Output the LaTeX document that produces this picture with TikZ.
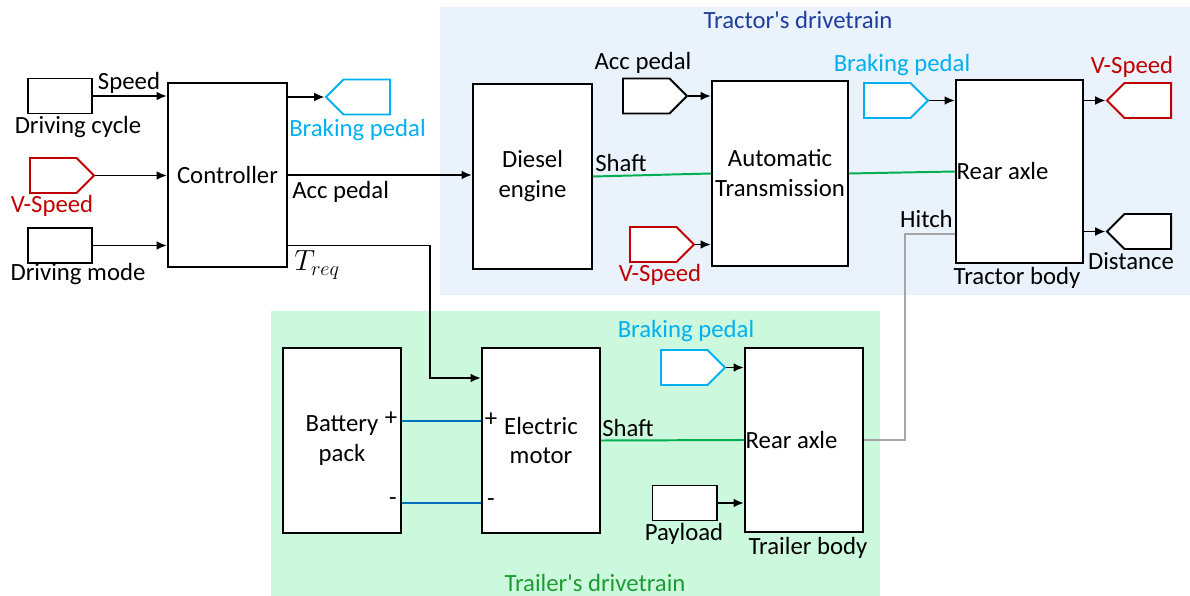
\documentclass[tikz,border=0pt]{standalone}
\usepackage{fontspec}
\setmainfont{Carlito}
\usetikzlibrary{arrows.meta,positioning,calc,shapes.symbols}
\definecolor{tagblue}{HTML}{00B0F0}
\definecolor{tagred}{HTML}{C00000}
\definecolor{tractorbg}{HTML}{EAF2FB}
\definecolor{trailerbg}{HTML}{CCF8DD}
\definecolor{tractortxt}{HTML}{1F3F9F}
\definecolor{trailertxt}{HTML}{1E9B32}
\definecolor{shaftgreen}{HTML}{00B050}
\definecolor{wireblue}{HTML}{0070C0}
\tikzset{
  block/.style={draw=black, fill=white, line width=1.4pt, inner sep=2pt, align=center},
  source/.style={draw=black, fill=white, line width=1.4pt, minimum width=1.6cm, minimum height=0.875cm},
  tagin/.style={signal, signal to=east, signal from=nowhere, signal pointer angle=90, draw=black, fill=white, line width=1.4pt, minimum width=1.6cm, minimum height=0.875cm, anchor=west},
  tagout/.style={signal, signal to=west, signal from=nowhere, signal pointer angle=90, draw=black, fill=white, line width=1.4pt, minimum width=1.6cm, minimum height=0.875cm, anchor=east},
  arrow/.style={-{Latex[length=2.6mm, width=2.2mm]}, line width=1.4pt},
  shaft/.style={shaftgreen, line width=1.4pt},
  wire/.style={wireblue, line width=1.4pt},
  hitch/.style={gray!70, line width=1.4pt},
  lbl/.style={inner sep=0pt},
  inlbl/.style={label={[anchor=west, inner sep=1pt]west:#1}}
}

\begin{document}
\begin{tikzpicture}[x=0.025cm, y=-0.025cm, font=\fontsize{17.6}{21.3}\selectfont]
  \useasboundingbox (0,0) rectangle (1190,596);
  \fill[tractorbg] (440,7) rectangle (1190,295);
  \fill[trailerbg] (271,311) rectangle (880,596);
  \node[lbl, tractortxt] (tractortitle) at (798,20) {Tractor\textquotesingle s drivetrain};
  \node[lbl, trailertxt] (trailertitle) at (595,583) {Trailer\textquotesingle s drivetrain};

  % controller side
  \node[source] (drvcycle) at (60,96) {};
  \node[tagin, draw=tagred] (vspeedin) at (29,175.5) {};
  \node[source] (drvmode) at (60,245.5) {};
  \node[block, minimum width=2.975cm, minimum height=4.6cm] (ctrl) at (227.5,175) {Controller};
  \node[tagout, draw=tagblue] (brakeout) at (391,97) {};
  \node[lbl] (speedlbl) at (129,83) {Speed};
  \node[lbl] (cyclelbl) at (78,127) {Driving cycle};
  \node[lbl, tagred] (vspeedinlbl) at (52,206) {V-Speed};
  \node[lbl] (modelbl) at (78,274) {Driving mode};
  \node[lbl, tagblue, anchor=west] (brakeoutlbl) at (289,130) {Braking pedal};
  \node[lbl, anchor=west] (acclbl) at (292,192) {Acc pedal};
  \node[lbl, anchor=west, font=\fontsize{19.5}{22}\selectfont] (treqlbl) at (294,265) {$T_{req}$};

  % tractor
  \node[block, minimum width=2.975cm, minimum height=4.625cm] (diesel) at (532.5,176.5) {Diesel\\engine};
  \node[tagin] (accin) at (622,96) {};
  \node[tagin, draw=tagred] (vspeedtr) at (629,244.5) {};
  \node[block, minimum width=3.4cm, minimum height=4.625cm] (trans) at (780,173.5) {Automatic\\Transmission};
  \node[tagin, draw=tagblue] (brakein) at (863,100.5) {};
  \node[block, minimum width=3.175cm, minimum height=4.575cm, inlbl=Rear axle] (raxle) at (1019.5,171.5) {};
  \node[tagout, draw=tagred] (vspeedout) at (1172,100.5) {};
  \node[tagout] (distout) at (1172,231.5) {};
  \node[lbl] (acctrlbl) at (643,63) {Acc pedal};
  \node[lbl, anchor=west] (shaftlbl) at (595,163) {Shaft};
  \node[lbl, tagred] (vspeedtrlbl) at (660,275) {V-Speed};
  \node[lbl, tagblue] (brakeinlbl) at (902,65) {Braking pedal};
  \node[lbl, tagred] (vspeedoutlbl) at (1132,67) {V-Speed};
  \node[lbl, anchor=east] (hitchlbl) at (953,219) {Hitch};
  \node[lbl] (tractorlbl) at (1017,278) {Tractor body};
  \node[lbl] (distlbl) at (1131,261) {Distance};

  % trailer
  \node[block, minimum width=2.95cm, minimum height=4.625cm] (battery) at (342,440.5) {Battery\\pack};
  \node[block, minimum width=2.95cm, minimum height=4.625cm] (emotor) at (541,440.5) {Electric\\motor};
  \node[tagin, draw=tagblue] (brakein2) at (660,367.5) {};
  \node[source] (payload) at (684.5,503) {};
  \node[block, minimum width=2.95cm, minimum height=4.6cm, inlbl=Rear axle] (raxle2) at (804,440) {};
  \node[lbl, tagblue] (brakein2lbl) at (686,331) {Braking pedal};
  \node[lbl] (bplus) at (391,419) {+};
  \node[lbl] (bminus) at (393,502) {-};
  \node[lbl] (mplus) at (491,420) {+};
  \node[lbl] (mminus) at (491,503) {-};
  \node[lbl, anchor=west] (shaft2lbl) at (602,428) {Shaft};
  \node[lbl] (payloadlbl) at (684,534) {Payload};
  \node[lbl] (trailerlbl) at (808,548) {Trailer body};

  \coordinate (tbend) at (430,378);
  \coordinate (hbend) at (905,234);

  \draw[arrow] (drvcycle.east) -- (drvcycle -| ctrl.west);
  \draw[arrow] (vspeedin.east) -- (vspeedin.east -| ctrl.west);
  \draw[arrow] (drvmode.east) -- (drvmode -| ctrl.west);
  \draw[arrow] (brakeout.west -| ctrl.east) -- (brakeout.west);
  \draw[arrow] (ctrl.east) -- (ctrl.east -| diesel.west);
  \draw[arrow] (ctrl.east |- drvmode) -| (tbend) -- (tbend -| emotor.west);
  \draw[shaft] (diesel.east) -- (trans.west);
  \draw[shaft] (trans.east) -- (raxle.west);
  \draw[arrow] (accin.east) -- (accin.east -| trans.west);
  \draw[arrow] (vspeedtr.east) -- (vspeedtr.east -| trans.west);
  \draw[arrow] (brakein.east) -- (brakein.east -| raxle.west);
  \draw[arrow] (vspeedout.west -| raxle.east) -- (vspeedout.west);
  \draw[arrow] (distout.west -| raxle.east) -- (distout.west);
  \draw[hitch] (hbend -| raxle.west) -- (hbend) |- (raxle2.east);
  \draw[wire] (battery.east |- 0,421) -- (emotor.west |- 0,421);
  \draw[wire] (battery.east |- 0,503) -- (emotor.west |- 0,503);
  \draw[shaft] (emotor.east) -- (raxle2.west);
  \draw[arrow] (brakein2.east) -- (brakein2.east -| raxle2.west);
  \draw[arrow] (payload.east) -- (payload -| raxle2.west);
\end{tikzpicture}
\end{document}
